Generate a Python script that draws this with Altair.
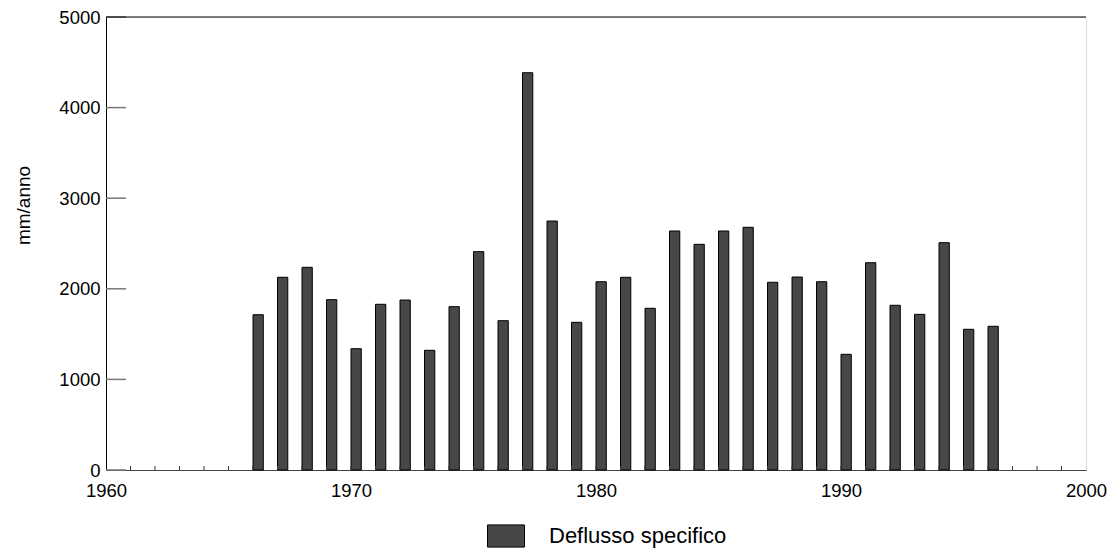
import altair as alt
import pandas as pd

years = list(range(1966, 1997))
deflusso = [1714, 2127, 2237, 1880, 1339, 1829, 1876, 1321, 1803, 2410, 1648,
            4385, 2748, 1630, 2078, 2127, 1785, 2638, 2491, 2638, 2679, 2072,
            2130, 2078, 1277, 2288, 1818, 1718, 2509, 1553, 1586]
series_name = "Deflusso specifico"
y_ticks = [0, 1000, 2000, 3000, 4000, 5000]
x_labels = [1960, 1970, 1980, 1990, 2000]
minor_years = list(range(1961, 2000))

W, H = 980, 453
FONT = "Liberation Sans"

df = pd.DataFrame({"year": years, "value": deflusso, "serie": [series_name] * len(years)})
df_yt = pd.DataFrame({"v": y_ticks})
df_xt = pd.DataFrame({"yr": minor_years})

xscale = alt.Scale(domain=[1960, 2000], nice=False, zero=False)
yscale = alt.Scale(domain=[0, 5000], nice=False)

bars = alt.Chart(df).transform_calculate(
    year_end="datum.year + 0.42", base="0"
).mark_bar(stroke="black", strokeWidth=1, opacity=1).encode(
    x=alt.X("year:Q", scale=xscale,
            axis=alt.Axis(values=x_labels, format="d", ticks=False, grid=False,
                          labelFlush=False,
                          domainColor="#444", labelPadding=11, labelFontSize=18.5,
                          labelFont=FONT, labelColor="black", title=None)),
    x2="year_end:Q",
    y=alt.Y("value:Q", scale=yscale,
            axis=alt.Axis(values=y_ticks, format="d", ticks=False, grid=False,
                          domainColor="black",
                          labelPadding=6, labelFontSize=18.5, labelFont=FONT,
                          labelColor="black", title="mm/anno", titleFont=FONT,
                          titleFontSize=19, titleFontWeight="normal", titleColor="black",
                          titleAngle=-90, titleX=-83, titleY=188,
                          titleAlign="center", titleBaseline="middle")),
    y2="base:Q",
    color=alt.Color("serie:N", scale=alt.Scale(domain=[series_name], range=["#474747"]),
                    legend=alt.Legend(title=None, orient="none", legendX=381, legendY=500,
                                      padding=0,
                                      symbolType="M-1,-0.6L1,-0.6L1,0.6L-1,0.6Z",
                                      symbolSize=1369, symbolStrokeColor="black",
                                      symbolStrokeWidth=1, symbolFillColor="#474747",
                                      symbolOpacity=1, labelLimit=400,
                                      labelFont=FONT, labelFontSize=22, labelColor="black",
                                      labelOffset=24)),
)

ytick_rules = alt.Chart(df_yt).mark_rule(color="#777", strokeWidth=1.5).encode(
    y=alt.Y("v:Q", scale=yscale),
    x=alt.value(0),
    x2=alt.value(20),
)

top_border = alt.Chart(df_yt).transform_filter("datum.v == 5000").mark_rule(
    color="black", strokeWidth=1
).encode(
    y=alt.Y("v:Q", scale=yscale),
    x=alt.value(0),
    x2=alt.value(W),
)

xtick_rules = alt.Chart(df_xt).mark_rule(color="#333", strokeWidth=1).encode(
    x=alt.X("yr:Q", scale=xscale),
    y=alt.value(H),
    y2=alt.value(H - 4),
)

chart = alt.layer(bars, ytick_rules, top_border, xtick_rules).properties(
    width=W, height=H,
    autosize=alt.AutoSizeParams(type="none"),
    padding={"left": 98, "top": 9, "right": 21, "bottom": 78},
).configure_view(stroke="#888", strokeWidth=1).configure(background="white")

chart.save("out.html", embed_options={"renderer": "svg", "actions": False})
